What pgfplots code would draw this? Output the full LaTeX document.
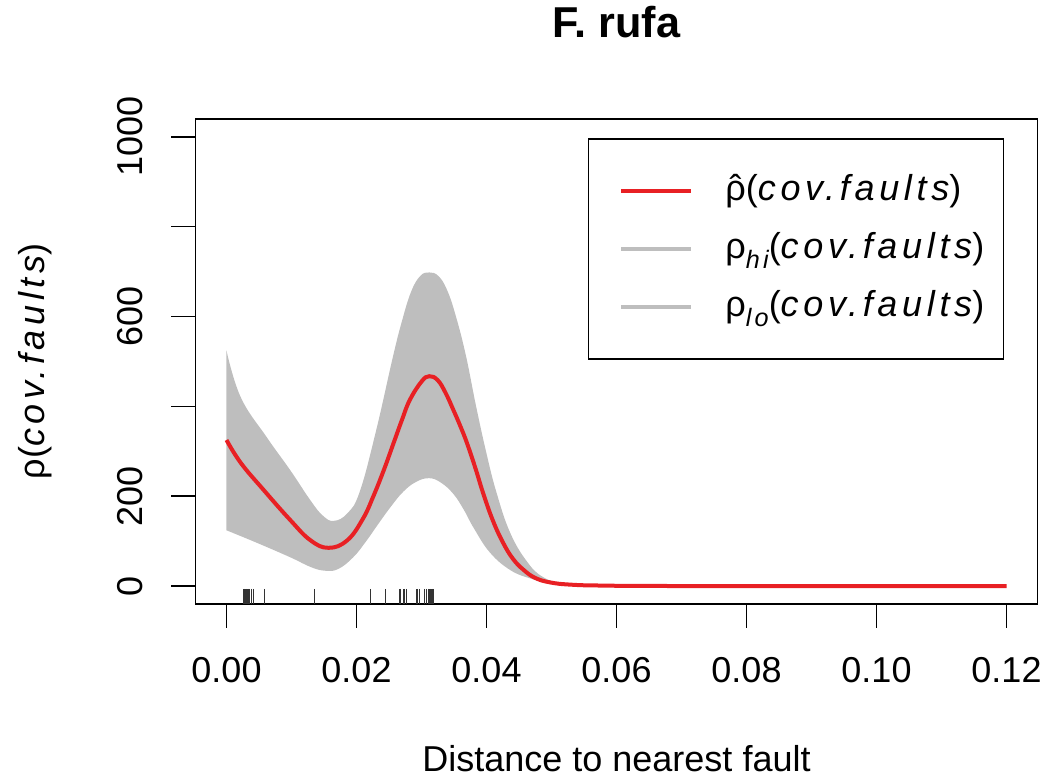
\documentclass[border=0pt]{standalone}
\usepackage{fontspec}
\setmainfont{Liberation Sans}
\newfontfamily\spfam{Liberation Sans}[LetterSpace=13]
\usepackage{pgfplots}
\usepackage{pgfplotstable}
\pgfplotsset{compat=1.18}
\usepgfplotslibrary{fillbetween}
\definecolor{rred}{RGB}{232,32,36}
\definecolor{band}{RGB}{190,190,190}
\newcommand\cf{{\spfam\itshape cov.faults}}
\newcommand\sub[1]{\raisebox{-0.28em}{\fontsize{12.6}{14}\selectfont\spfam\itshape #1}}
\newcommand\rhohat{\makebox[0pt][l]{\kern0.12em\char"02C6}ρ}
\newcommand\fs{\fontsize{18}{21.6}\selectfont}

\pgfplotstableread{
x y
0.0000 325
0.0022 274
0.0057 214
0.0098 147
0.0129 102
0.0157 85
0.0186 102
0.0210 150
0.0226 200
0.0242 258
0.0257 318
0.0270 370
0.0282 414
0.0300 455
0.0312 467
0.0325 458
0.0337 430
0.0349 392
0.0360 355
0.0370 318
0.0383 262
0.0395 206
0.0410 145
0.0426 95
0.0441 60
0.0457 36
0.0475 18
0.0498 8
0.0530 3
0.0580 1
0.0700 0
0.1200 0
}\est

\pgfplotstableread{
x y
0.0000 524
0.0022 420
0.0062 331
0.0098 258
0.0129 191
0.0148 157
0.0165 145
0.0186 162
0.0205 210
0.0230 345
0.0256 510
0.0270 590
0.0284 655
0.0298 690
0.0312 698
0.0326 690
0.0339 660
0.0352 605
0.0368 515
0.0384 400
0.0400 295
0.0415 210
0.0436 120
0.0462 55
0.0487 20
0.0520 5
0.0580 1
0.0700 0
0.1200 0
}\hi

\pgfplotstableread{
x y
0.0000 124
0.0047 96
0.0098 64
0.0130 42
0.0152 34
0.0172 38
0.0195 64
0.0215 100
0.0232 135
0.0252 175
0.0272 210
0.0292 232
0.0312 240
0.0330 230
0.0349 205
0.0365 170
0.0380 130
0.0405 75
0.0436 36
0.0467 17
0.0498 7
0.0550 2
0.0700 0
0.1200 0
}\lo

\begin{document}
\begin{tikzpicture}
\begin{axis}[
  at={(0pt,0pt)}, anchor=south west,
  scale only axis, width=421.2pt, height=242.6pt,
  xmin=-0.0048, xmax=0.1248, ymin=-40, ymax=1040,
  axis line style={line width=0.75pt},
  every tick/.style={black, line width=0.75pt},
  major tick length=12pt, tick align=outside,
  xtick pos=bottom, ytick pos=left,
  xtick={0,0.02,0.04,0.06,0.08,0.10,0.12},
  xticklabels={0.00,0.02,0.04,0.06,0.08,0.10,0.12},
  scaled x ticks=false, scaled y ticks=false,
  ytick={0,200,400,600,800,1000},
  yticklabels={0,200,,600,,1000},
  tick label style={font=\fs, inner sep=0pt},
  xticklabel style={anchor=north},
  yticklabel style={rotate=90, anchor=base},
  xticklabel shift=14.5pt, yticklabel shift=14.3pt,
  title={F. rufa},
  title style={at={(axis description cs:0.5,1.1418)}, anchor=base, inner sep=0pt,
    font=\bfseries\fontsize{21.6}{26}\selectfont},
  xlabel={Distance to nearest fault},
  every axis x label/.style={at={(axis description cs:0.5,-0.3462)}, anchor=base, inner sep=0pt, font=\fs},
  ylabel={ρ(\cf)},
  every axis y label/.style={at={(axis description cs:-0.1796,0.5)}, rotate=90, anchor=base, inner sep=0pt, font=\fs},
  legend image code/.code={\draw[#1] (0pt,0pt) -- (35pt,0pt);},
  legend cell align=left,
  legend style={at={(axis description cs:1,1)}, anchor=north east,
    xshift=-16.85pt, yshift=-9.65pt,
    draw=black, line width=0.75pt, fill=white,
    inner xsep=15.5pt, inner ysep=11.5pt, row sep=0pt,
    font=\fs,
    nodes={inner sep=0pt, text height=19.2pt, text depth=9.8pt},
    /tikz/column 1/.style={column sep=16pt}},
]
\addplot[name path=hi, draw=none, smooth, tension=0.7, forget plot] table {\hi};
\addplot[name path=lo, draw=none, smooth, tension=0.7, forget plot] table {\lo};
\addplot[fill=band, draw=none, forget plot] fill between[of=hi and lo];
\addplot[rred, line width=2pt, smooth, tension=0.7] table {\est};
\addlegendentry{\rhohat(\cf)\kern-6pt}
\addlegendimage{band, line width=2pt}
\addlegendentry{ρ\sub{hi}(\cf)\kern-6pt}
\addlegendimage{band, line width=2pt}
\addlegendentry{ρ\sub{lo}(\cf)\kern-6pt}
\addplot[only marks, mark=|, mark size=3.8pt, mark options={line width=0.6pt, black!80}, forget plot] coordinates {
(0.0027,-23) (0.0030,-23) (0.0033,-23) (0.0036,-23) (0.0039,-23) (0.0041,-23)
(0.0059,-23) (0.0135,-23) (0.0221,-23) (0.0245,-23) (0.0267,-23) (0.0273,-23)
(0.0277,-23) (0.0293,-23) (0.0297,-23) (0.0304,-23) (0.0308,-23) (0.0311,-23)
(0.0313,-23) (0.0316,-23) (0.0318,-23)};
\end{axis}
\pgfresetboundingbox
\path (-97.65pt,-87.5pt) rectangle (424.85pt,302pt);
\end{tikzpicture}
\end{document}
